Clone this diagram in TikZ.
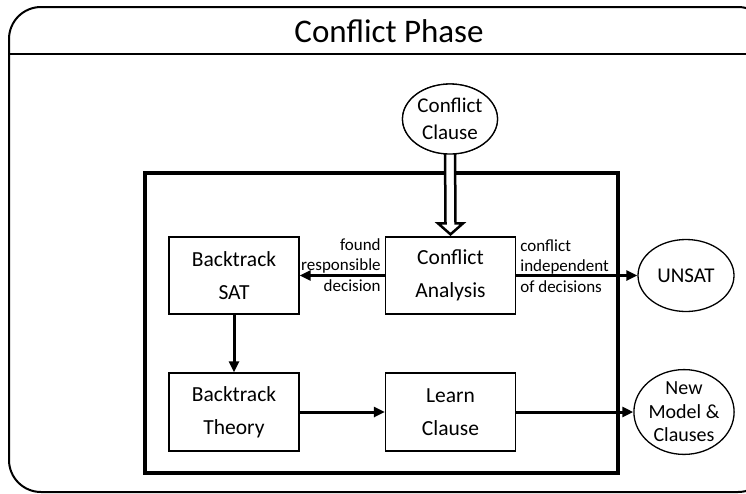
\documentclass[tikz,border=0pt]{standalone}
\usepackage{fontspec}
\setmainfont{Carlito}
\usetikzlibrary{arrows.meta,calc,shapes.geometric}
\begin{document}
\begin{tikzpicture}[x=1pt,y=-1pt,
  stepbox/.style={draw,line width=1.3pt,minimum width=130pt,minimum height=77pt,inner sep=0pt,align=center,font=\fontsize{21.5}{33}\selectfont},
  oval/.style={draw,ellipse,line width=1.3pt,fill=white,inner sep=0pt,align=center,font=\fontsize{21}{25}\selectfont},
  flow/.style={line width=3pt,-{Triangle[length=11pt,width=10pt]}},
  lbl/.style={inner sep=0pt,font=\fontsize{17}{20.5}\selectfont},
  hollow/.style={line width=2.5pt,fill=white,line join=miter}]
\useasboundingbox (0,0) rectangle (746,493);
\clip (0,0) rectangle (746,493);
% outer frame
\draw[line width=2pt,rounded corners=32pt] (9,7) rectangle (770,492);
\coordinate (dl) at (9,54);
\coordinate (dr) at (770,54);
\draw[line width=2pt] (dl) -- (dr);
\node[inner sep=0pt,font=\fontsize{33}{36}\selectfont] (title) at (389,31) {Conflict Phase};
% inner frame
\draw[line width=3.5pt] (145,173) rectangle (618,473);
% boxes
\node[stepbox] (bs) at (234,275.5) {Backtrack\\SAT};
\node[stepbox] (ca) at (450.5,275.5) {Conflict\\Analysis};
\node[stepbox,minimum height=78pt] (bt) at (234,412) {Backtrack\\Theory};
\node[stepbox,minimum height=78pt] (lc) at (450.5,412) {Learn\\Clause};
% ellipses
\node[oval,minimum width=95pt,minimum height=70pt,font=\fontsize{21}{27}\selectfont] (cc) at (450,119) {Conflict\\Clause};
\node[oval,minimum width=96pt,minimum height=72pt] (un) at (686,275.5) {UNSAT};
\node[oval,minimum width=96pt,minimum height=76pt,font=\fontsize{20}{23.5}\selectfont] (nm) at (684,412) {New\\Model \&\\Clauses};
% hollow double arrow
\coordinate (dt) at ($(cc.south)+(0,-6)$);
\coordinate (db) at ($(ca.north)+(0,-2)$);
\draw[hollow] ($(dt)+(-5,0)$) -- ($(db)+(-5,-11)$) -- ($(db)+(-12.5,-11)$) -- (db)
  -- ($(db)+(12.5,-11)$) -- ($(db)+(5,-11)$) -- ($(dt)+(5,0)$);
\node[oval,minimum width=95pt,minimum height=70pt,font=\fontsize{21}{27}\selectfont] at (cc) {Conflict\\Clause};
% connectors
\draw[flow] (ca.west) -- (bs.east);
\draw[flow] (ca.east) -- (un.west);
\draw[flow] (bs.south) -- (bt.north);
\draw[flow] (bt.east) -- (lc.west);
\draw[flow] (lc.east) -- (nm.west);
% labels
\node[lbl,align=right,anchor=east] (lf) at ($(ca.west)+(-4,-10.5)$) {found\\responsible\\decision};
\node[lbl,align=left,anchor=west] (li) at ($(ca.east)+(4,-9.5)$) {conflict\\independent\\of decisions};
\end{tikzpicture}
\end{document}
